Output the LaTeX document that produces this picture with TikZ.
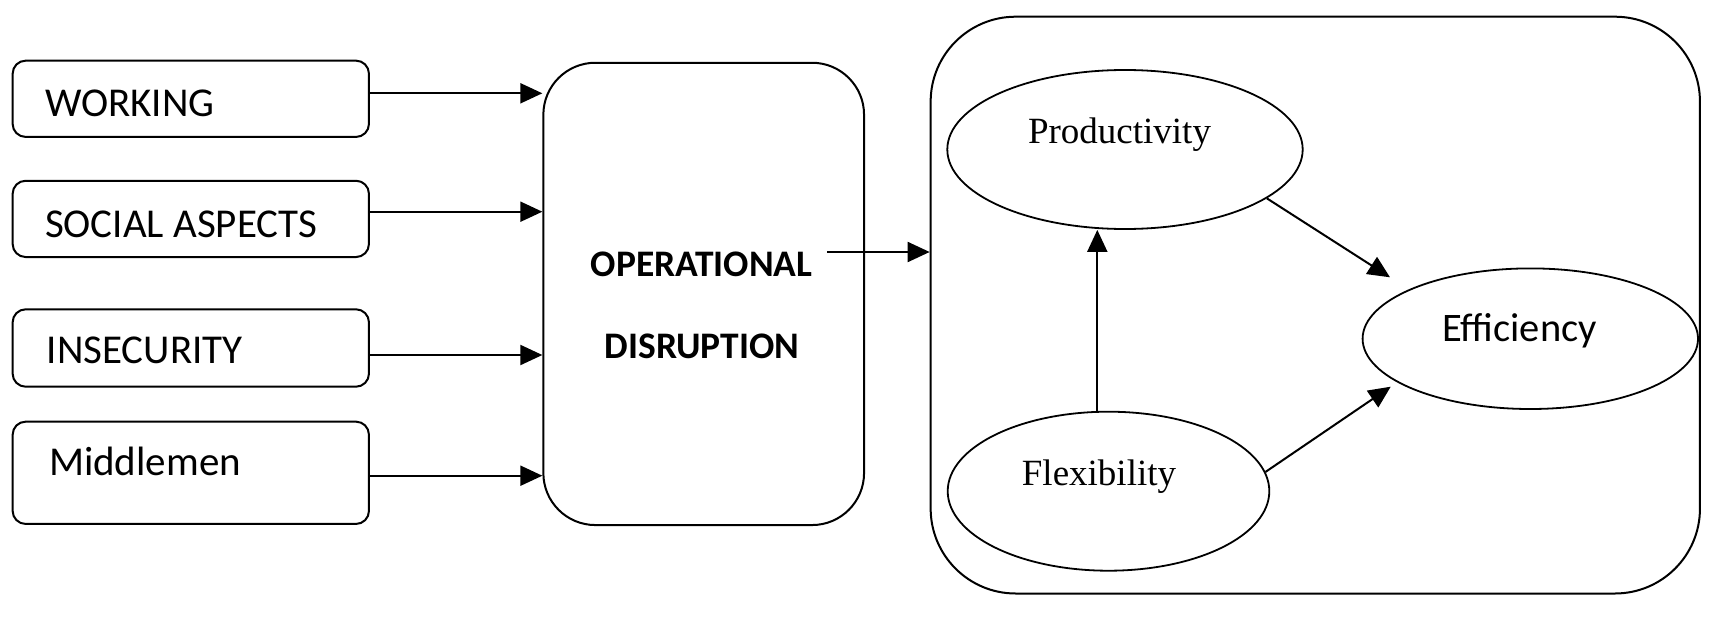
\documentclass[tikz,border=0pt]{standalone}
\usepackage{fontspec}
\usetikzlibrary{arrows.meta,shapes.geometric}
\newfontfamily\calfont{Carlito}
\newfontfamily\tmsfont{Liberation Serif}
\begin{document}
\begin{tikzpicture}[x=1pt,y=-1pt,line width=2pt,
  inbox/.style={draw,rounded corners=13pt,minimum width=356.3pt,inner sep=0pt},
  opbox/.style={draw,rounded corners=52pt,minimum width=320.7pt,minimum height=462.3pt,inner sep=0pt},
  bigbox/.style={draw,rounded corners=85pt,minimum width=769.3pt,minimum height=576.8pt,inner sep=0pt},
  oval/.style={draw,ellipse,inner sep=0pt,line width=1.8pt},
  lbl/.style={inner sep=0pt,font=\calfont\fontsize{41}{49}\selectfont},
  optxt/.style={inner sep=0pt,font=\calfont\bfseries\fontsize{37.5}{45}\selectfont},
  sertxt/.style={inner sep=0pt,font=\tmsfont\fontsize{37}{44}\selectfont},
  caltxt/.style={inner sep=0pt,font=\calfont\fontsize{40.5}{48}\selectfont},
  arr/.style={-{Triangle[length=22pt,width=20pt]}}]
\useasboundingbox (0,0) rectangle (1710,621);

% left boxes
\node[inbox,minimum height=76.3pt] (w) at (190.8,98.8) {};
\node[inbox,minimum height=76.3pt] (s) at (190.8,218.9) {};
\node[inbox,minimum height=77.4pt] (i) at (190.8,348) {};
\node[inbox,minimum height=102.3pt] (m) at (190.8,472.8) {};
\node[lbl,anchor=base west] (wt) at (44,116) {WORKING};
\node[lbl,anchor=base west] (st) at (44,237) {SOCIAL ASPECTS};
\node[lbl,anchor=base west] (it) at (45.7,363.3) {INSECURITY};
\node[lbl,anchor=base west] (mt) at (48,475.7) {Middlemen};

% operational box
\node[opbox] (op) at (703.7,293.9) {};
\node[optxt,anchor=base] (opt1) at (701.7,276.7) {OPERATIONAL};
\node[optxt,anchor=base] (opt2) at (702,358) {DISRUPTION};

% big box
\node[bigbox] (big) at (1315.3,305.1) {};

% ellipses
\node[oval,minimum width=355.4pt,minimum height=159pt] (pr) at (1125,149.5) {};
\node[oval,minimum width=335.4pt,minimum height=140.6pt] (ef) at (1530.3,338.7) {};
\node[oval,minimum width=321.6pt,minimum height=159pt] (fx) at (1108.5,491.2) {};
\node[sertxt,anchor=base] (prt) at (1119.5,143.3) {Productivity};
\node[caltxt,anchor=base] (eft) at (1519.5,341.7) {Efficiency};
\node[sertxt,anchor=base] (fxt) at (1099,485) {Flexibility};

% arrows left -> op
\coordinate (wa) at ([yshift=5.5pt]w.east);
\coordinate (sa) at ([yshift=7.2pt]s.east);
\coordinate (ia) at ([yshift=-7pt]i.east);
\coordinate (ma) at ([yshift=-2.9pt]m.east);
\draw[arr] (wa) -- (wa -| op.west);
\draw[arr] (sa) -- (sa -| op.west);
\draw[arr] (ia) -- (ia -| op.west);
\draw[arr] (ma) -- (ma -| op.west);

% op -> big
\coordinate (oa) at (827,252);
\draw[arr] (oa) -- (oa -| big.west);

% inside
\coordinate (fa) at ([xshift=-11.2pt]fx.north);
\draw[arr] (fa) -- (fa |- pr.south);
\coordinate (e1) at (1390,277.3);
\coordinate (e2) at (1390.7,386.7);
\draw[arr] (pr.-19.4) -- (e1);
\draw[arr] (fx.7.4) -- (e2);
\end{tikzpicture}
\end{document}
